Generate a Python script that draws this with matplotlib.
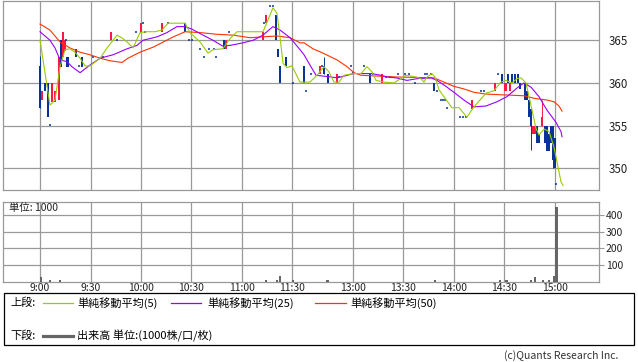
import matplotlib
matplotlib.use('Agg')
import matplotlib.pyplot as plt
from matplotlib.lines import Line2D
from matplotlib.patches import Rectangle

plt.rcParams['font.family'] = ['Noto Sans CJK JP', 'DejaVu Sans']

# ---------------- data ----------------
time_labels = ['9:00', '9:30', '10:00', '10:30', '11:00', '11:30',
               '13:00', '13:30', '14:00', '14:30', '15:00']
time_pos = [0, 30, 60, 90, 120, 150, 186, 216, 246, 276, 306]

price_ticks = [350, 355, 360, 365]
volume_ticks = [100, 200, 300, 400]

candle_x = [0.0, 1.2, 3.0, 4.8, 5.9, 7.1, 8.9, 11.3, 12.5, 13.7, 14.9, 15.6, 16.3,
            21.4, 23.2, 25.0, 31.5, 37.4, 42.2, 45.8, 57.0, 60.0, 61.2, 62.4,
            72.5, 76.1, 86.2, 88.5, 90.3, 95.1, 97.4, 100.4, 103.4, 104.6,
            109.3, 110.5, 112.3, 132.5, 133.1, 134.3, 136.7, 138.4, 140.2,
            141.4, 142.6, 146.2, 150.3, 156.9, 158.1,
            161.0, 166.4, 167.6, 168.6, 171.1, 176.5, 177.7, 184.8, 186.0,
            192.5, 196.1, 197.9, 203.2, 205.6, 208.0, 212.7, 216.9, 219.3,
            222.8, 228.8, 230.0, 232.3, 234.1, 235.9, 238.3, 239.5, 240.6,
            241.8, 249.6, 251.4, 253.2, 256.7, 262.0, 263.8, 270.4, 272.1,
            274.5, 276.6, 278.1, 279.3, 280.4, 282.2, 284.0, 285.2, 288.2,
            289.4, 290.6, 291.7, 292.9, 294.1, 295.3, 296.7, 298.3, 300.1,
            301.3, 302.4, 303.6, 304.8, 306.0, 306.6]
candle_open = [362.0, 358.0, 360.0, 360.0, 355.1, 357.8, 357.8, 358.0, 365.0, 363.0, 363.8, 365.0, 363.0,
               364.0, 362.0, 363.0, 363.0, 363.0, 365.0, 365.0, 366.0, 366.0, 367.0, 366.0,
               366.0, 367.0, 367.0, 365.0, 365.0, 364.0, 363.0, 364.0, 364.0, 363.0,
               365.0, 364.0, 366.0, 365.0, 367.0, 367.0, 369.0, 369.0, 368.0,
               364.0, 362.0, 363.0, 360.0, 362.0, 359.0,
               361.0, 361.0, 362.0, 362.0, 361.0, 360.0, 360.7, 362.0, 361.2,
               362.0, 361.0, 361.0, 360.0, 360.7, 360.7, 361.0, 361.0, 361.0,
               360.0, 361.0, 361.0, 361.0, 360.0, 359.0, 358.0, 358.0, 358.0,
               357.1, 356.0, 356.0, 356.0, 357.0, 359.0, 359.0, 359.0, 361.0,
               361.0, 359.0, 361.0, 359.0, 361.0, 361.0, 361.0, 360.0, 360.0,
               359.0, 358.0, 357.0, 354.0, 354.0, 355.0, 354.0, 355.0, 355.0,
               355.0, 354.0, 355.0, 355.0, 353.5, 348.2]
candle_high = [363.1, 359.1, 360.0, 360.0, 355.1, 360.0, 359.0, 363.0, 365.0, 366.0, 365.0, 365.0, 363.0,
               364.0, 362.0, 363.0, 363.0, 363.0, 366.0, 365.0, 366.0, 367.0, 367.0, 366.0,
               367.0, 367.0, 367.0, 365.0, 365.0, 364.0, 363.0, 364.0, 364.0, 363.0,
               365.0, 365.0, 366.0, 366.0, 367.0, 368.0, 369.0, 369.0, 368.0,
               364.0, 362.0, 363.0, 360.0, 362.0, 359.0,
               361.0, 362.0, 362.0, 363.0, 361.0, 361.0, 360.7, 362.0, 361.2,
               362.0, 361.0, 361.0, 361.0, 360.7, 360.7, 361.0, 361.0, 361.0,
               360.0, 361.0, 361.0, 361.0, 360.0, 359.0, 358.0, 358.0, 358.0,
               357.1, 356.0, 356.0, 356.0, 358.0, 359.0, 359.0, 360.0, 361.0,
               361.0, 360.0, 361.0, 360.0, 361.0, 361.0, 361.0, 360.0, 360.0,
               359.0, 358.0, 357.0, 355.0, 355.0, 355.0, 354.0, 358.0, 355.0,
               355.0, 354.0, 355.0, 355.0, 353.5, 348.2]
candle_low = [357.1, 358.0, 359.1, 356.0, 355.1, 357.8, 357.8, 358.0, 361.9, 363.0, 363.8, 365.0, 361.9,
              363.0, 362.0, 361.9, 363.0, 363.0, 365.0, 365.0, 366.0, 366.0, 367.0, 366.0,
              366.0, 367.0, 366.0, 365.0, 365.0, 364.0, 363.0, 364.0, 364.0, 363.0,
              364.0, 364.0, 366.0, 365.0, 367.0, 367.0, 369.0, 369.0, 365.0,
              363.0, 360.0, 362.0, 360.0, 360.0, 359.0,
              361.0, 361.0, 362.0, 361.0, 360.0, 360.0, 360.7, 362.0, 361.2,
              362.0, 360.0, 361.0, 360.0, 360.7, 360.7, 361.0, 361.0, 361.0,
              360.0, 361.0, 361.0, 361.0, 359.0, 359.0, 358.0, 358.0, 358.0,
              357.1, 356.0, 356.0, 356.0, 357.0, 359.0, 359.0, 359.0, 361.0,
              360.0, 359.0, 360.0, 359.0, 360.0, 360.0, 360.0, 359.3, 358.0,
              358.0, 356.0, 352.2, 354.0, 354.0, 353.0, 353.0, 355.0, 353.0,
              352.0, 352.0, 353.0, 350.0, 350.0, 348.2]
candle_close = [357.1, 359.1, 359.1, 356.0, 355.1, 360.0, 359.0, 363.0, 361.9, 366.0, 365.0, 365.0, 361.9,
                363.0, 362.0, 361.9, 363.0, 363.0, 366.0, 365.0, 366.0, 367.0, 367.0, 366.0,
                367.0, 367.0, 366.0, 365.0, 365.0, 364.0, 363.0, 364.0, 364.0, 363.0,
                364.0, 365.0, 366.0, 366.0, 367.0, 368.0, 369.0, 369.0, 365.0,
                363.0, 360.0, 362.0, 360.0, 360.0, 359.0,
                361.0, 362.0, 362.0, 361.0, 360.0, 361.0, 360.7, 362.0, 361.2,
                362.0, 360.0, 361.0, 361.0, 360.7, 360.7, 361.0, 361.0, 361.0,
                360.0, 361.0, 361.0, 361.0, 359.0, 359.0, 358.0, 358.0, 358.0,
                357.1, 356.0, 356.0, 356.0, 358.0, 359.0, 359.0, 360.0, 361.0,
                360.0, 360.0, 360.0, 360.0, 360.0, 360.0, 360.0, 359.3, 358.0,
                358.0, 356.0, 355.0, 355.0, 355.0, 353.0, 353.0, 356.0, 353.0,
                352.0, 352.0, 353.0, 351.0, 350.0, 348.2]

sma5_x = [0, 5.9, 8.9, 11.9, 14.9, 17.8, 20.8, 23.8, 26.7, 29.7, 35.7, 39.8, 45.8,
          49.3, 52.3, 55.3, 59.4, 63.6, 68.3, 72.5, 76.1, 86.2, 89.1, 95.1, 99.8,
          102.8, 108.7, 112.9, 117.1, 132.5, 135.5, 138.4, 140.8, 142.6, 144.4,
          146.8, 149.7, 154.5, 160.4, 164.6, 168.8, 171.7, 174.7, 177.7, 180.6,
          186.6, 190.7, 194.3, 197.3, 199.7, 204.4, 210.3, 217.5, 223.4, 226.4,
          228.2, 230.0, 232.9, 234.7, 237.1, 240.0, 244.8, 249.0, 253.7, 257.9,
          265.0, 269.8, 273.9, 276.9, 280.5, 283.4, 285.8, 288.8, 290.6, 292.4,
          294.7, 296.5, 299.5, 302.5, 305.4, 307.8, 309.6, 310.8]
sma5_y = [365.0, 357.4, 358.0, 361.9, 363.9, 364.0, 363.6, 362.9, 362.0, 362.0, 362.9, 364.1, 365.6,
          365.2, 364.7, 364.1, 365.9, 366.0, 366.0, 366.2, 367.0, 367.0, 365.9, 364.8, 363.5,
          363.9, 364.0, 365.2, 366.0, 366.0, 367.4, 368.8, 368.2, 365.4, 362.3,
          361.8, 362.0, 360.1, 360.1, 360.9, 361.9, 361.3, 360.1, 360.1, 360.9,
          361.1, 361.1, 361.9, 361.3, 360.3, 360.1, 360.0, 360.9, 360.7, 360.5,
          360.1, 360.7, 361.1, 360.7, 359.2, 358.4, 357.1, 357.1, 356.0, 357.2,
          358.8, 359.1, 360.1, 360.3, 360.0, 360.5, 360.6, 360.0, 358.4, 356.8,
          354.7, 353.9, 354.6, 354.3, 352.5, 350.2, 348.4, 348.0]

sma25_x = [0, 5.9, 8.9, 11.9, 16.0, 19.0, 23.8, 29.7, 35.7, 43.4, 51.7, 57.6, 61.2,
           69.5, 75.4, 81.4, 86.2, 90.3, 96.9, 102.8, 108.7, 112.9, 120.6, 126.6,
           132.5, 138.4, 142.6, 148.6, 154.5, 156.9, 161.0, 164.0, 172.9, 176.5,
           180.6, 186.6, 196.7, 202.6, 206.2, 211.5, 218.1, 224.0, 232.3, 235.9,
           241.2, 246.0, 251.9, 257.9, 265.0, 271.6, 277.5, 283.4, 287.6, 291.8,
           296.5, 301.3, 306.6, 309.6, 310.2]
sma25_y = [366.0, 365.0, 364.1, 362.7, 362.5, 361.9, 361.2, 362.1, 362.9, 363.3, 364.0, 364.4, 365.0,
           365.4, 365.9, 366.6, 366.6, 366.3, 365.6, 365.0, 364.3, 364.4, 364.7, 365.0,
           365.6, 366.6, 366.2, 365.3, 363.9, 363.3, 361.9, 360.9, 360.7, 360.6,
           360.8, 361.1, 361.1, 360.9, 360.7, 360.6, 360.3, 360.5, 360.6, 360.3,
           359.6, 358.9, 358.0, 357.2, 357.3, 357.8, 358.4, 359.4, 360.0, 359.5,
           358.4, 356.8, 355.4, 354.3, 353.7]

sma50_x = [0, 5.9, 11.9, 17.8, 23.8, 29.7, 35.7, 41.6, 48.7, 52.3, 59.4, 67.3, 73.3,
           79.2, 86.2, 95.1, 105.2, 114.7, 124.8, 132.5, 140.8, 148.6, 154.5, 156.9,
           162.2, 167.0, 176.5, 182.5, 186.6, 190.7, 211.5, 234.1, 240.0, 246.0,
           251.9, 257.9, 265.0, 275.7, 287.6, 293.6, 301.3, 305.4, 308.4, 310.2]
sma50_y = [366.9, 366.2, 364.8, 364.1, 363.6, 363.3, 362.9, 362.6, 362.4, 362.9, 363.6, 364.2, 364.8,
           365.4, 366.0, 365.9, 365.7, 365.6, 365.3, 365.4, 365.5, 365.3, 364.7, 364.7,
           364.0, 363.6, 362.7, 361.9, 361.2, 360.9, 360.7, 360.6, 360.1, 359.6,
           359.3, 358.9, 358.7, 358.6, 358.5, 358.2, 358.0, 357.8, 357.3, 356.7]

volume_x = [0.4, 5.9, 11.9, 134.3, 140.8, 142.6, 150.3, 170.8, 234.7, 273.3, 277.2,
            291.8, 294.1, 298.9, 302.5, 305.4, 306.9]
volume_y = [28, 8, 8, 8, 8, 32, 8, 8, 8, 8, 8, 8, 30, 8, 8, 35, 450]

legend_top = ['単純移動平均(5)', '単純移動平均(25)', '単純移動平均(50)']
legend_bottom = '出来高 単位:(1000株/口/枚)'
unit_label = '単位: 1000'
copyright_text = '(c)Quants Research Inc.'

# ---------------- style ----------------
W, H = 638, 362
RED = '#ff1744'
BLUE = '#0a3399'
C5, C25, C50 = '#99cc00', '#9900ff', '#ff3300'
GRID = '#999999'
VOLC = '#666666'

fig = plt.figure(figsize=(W / 100, H / 100), dpi=100)
fig.patch.set_facecolor('white')

def fx(px):
    return px / W

def fy(py):
    return 1 - py / H

ax1 = fig.add_axes([fx(3), fy(190), fx(598.7) - fx(3), fy(1) - fy(190)])
ax2 = fig.add_axes([fx(3), fy(281.7), fx(598.7) - fx(3), fy(202) - fy(281.7)])

for ax in (ax1, ax2):
    ax.set_xlim(-22, 332)
    ax.set_xticks(time_pos)
    ax.grid(True, color=GRID, lw=0.9)
    ax.set_axisbelow(True)
    for s in ax.spines.values():
        s.set_color(GRID)
        s.set_linewidth(0.9)
    ax.yaxis.tick_right()

# candles
BW = 1.4
for x, o, h, l, c in zip(candle_x, candle_open, candle_high, candle_low, candle_close):
    if o == c:
        ax1.hlines(c, x - BW / 2, x + BW / 2, color=BLUE, lw=1.1, zorder=3)
        continue
    col = RED if c > o else BLUE
    lo, hi = min(o, c), max(o, c)
    if h > hi or l < lo:
        ax1.vlines(x, l, h, color=col, lw=0.7, zorder=3)
    ax1.bar(x, hi - lo, bottom=lo, width=BW, color=col, lw=0, zorder=3)

ax1.plot(sma50_x, sma50_y, color=C50, lw=0.8, zorder=4)
ax1.plot(sma25_x, sma25_y, color=C25, lw=0.8, zorder=4)
ax1.plot(sma5_x, sma5_y, color=C5, lw=0.8, zorder=4)

ax1.set_ylim(347.46, 369.6)
ax1.set_yticks(price_ticks)
ax1.set_xticklabels([])
ax1.tick_params(axis='both', length=0)
ax1.tick_params(axis='y', pad=7, labelsize=8.3, labelcolor='#222222')

ax2.bar(volume_x, volume_y, width=1.3, color=VOLC, lw=0, zorder=3)
ax2.set_ylim(0, 477)
ax2.set_yticks(volume_ticks)
ax2.tick_params(axis='y', length=3.5, color=GRID, pad=1.5, labelsize=7.5, labelcolor='#222222')
ax2.tick_params(axis='x', length=0, pad=1, labelsize=7.5, labelcolor='#222222')
ax2.set_xticklabels(time_labels)

fig.text(fx(9), fy(208), unit_label, fontsize=7.5, va='center', ha='left', color='#222222')

# legend box
fig.add_artist(Rectangle((fx(4), fy(345)), fx(634) - fx(4), fy(293) - fy(345),
                         transform=fig.transFigure, fill=False, edgecolor='black', lw=0.9))
ytop, ybot = fy(303), fy(336)
fig.text(fx(10), ytop, '上段:', fontsize=8, va='center', ha='left')
fig.text(fx(10), ybot, '下段:', fontsize=8, va='center', ha='left')
for (x0, x1, tx), col, lab in zip([(43, 73, 77), (171, 201, 207), (315, 346, 350)],
                                  [C5, C25, C50], legend_top):
    fig.add_artist(Line2D([fx(x0), fx(x1)], [ytop, ytop], color=col, lw=0.9,
                          transform=fig.transFigure))
    fig.text(fx(tx), ytop, lab, fontsize=8, va='center', ha='left')
fig.add_artist(Line2D([fx(43), fx(73)], [ybot, ybot], color=VOLC, lw=2.3,
                      transform=fig.transFigure))
fig.text(fx(77), ybot, legend_bottom, fontsize=8, va='center', ha='left')

fig.text(fx(618), fy(356), copyright_text, fontsize=7.5, va='center', ha='right', color='#333333')

fig.savefig('out.png', dpi=100)
